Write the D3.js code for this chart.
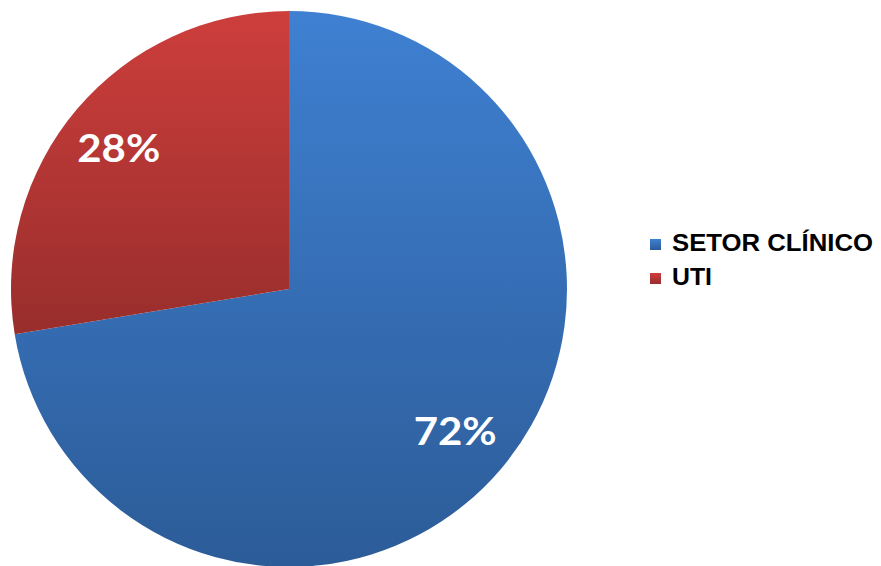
<!DOCTYPE html>
<html>
<head>
<meta charset="utf-8">
<script src="https://cdn.jsdelivr.net/npm/d3@7"></script>
<style>
    body { margin: 0; background: #fff; }
    svg { display: block; }
</style>
</head>
<body>
<svg class="chart" width="881" height="566"></svg>
<script>
var categories = ["SETOR CLÍNICO", "UTI"];
var values = [72.4, 27.6];
var labels = ["72%", "28%"];
var topColors = ["#3f80d2", "#cd3e3c"];
var bottomColors = ["#2c5c98", "#982e2c"];

var svg = d3.select("svg.chart");
var cx = 289, cy = 289, radius = 278;

var defs = svg.append("defs");
categories.forEach(function (c, i) {
    var grad = defs.append("linearGradient")
        .attr("id", "grad-" + i)
        .attr("x1", 0).attr("y1", 0)
        .attr("x2", 0).attr("y2", 1);
    grad.append("stop").attr("offset", "0%").attr("stop-color", topColors[i]);
    grad.append("stop").attr("offset", "100%").attr("stop-color", bottomColors[i]);
});

var pie = d3.pie().sort(null).value(function (d) { return d; });
var arc = d3.arc().innerRadius(0).outerRadius(radius);
var labelArc = d3.arc().innerRadius(218).outerRadius(218);

var g = svg.append("g").attr("transform", "translate(" + cx + "," + cy + ")");
var slices = pie(values);

g.selectAll("path.slice")
    .data(slices)
    .enter()
    .append("path")
    .classed("slice", true)
    .attr("d", arc)
    .attr("fill", function (d, i) { return "url(#grad-" + i + ")"; });

// wide geometric face in the original, so stretch to its width
g.selectAll("text.pct")
    .data(slices)
    .enter()
    .append("text")
    .classed("pct", true)
    .attr("transform", function (d) { return "translate(" + labelArc.centroid(d) + ")"; })
    .attr("text-anchor", "middle")
    .attr("dx", function (d, i) { return i === 1 ? -4 : 0; })
    .attr("dy", "0.38em")
    .attr("fill", "#fff")
    .attr("textLength", 83)
    .attr("lengthAdjust", "spacingAndGlyphs")
    .style("font-family", "Lato, 'DejaVu Sans', sans-serif")
    .style("font-weight", "bold")
    .style("font-size", "38px")
    .text(function (d, i) { return labels[i]; });

var legend = svg.append("g").attr("transform", "translate(650,239)");
var items = legend.selectAll("g.item")
    .data(categories)
    .enter()
    .append("g")
    .classed("item", true)
    .attr("transform", function (d, i) { return "translate(0," + (i * 34) + ")"; });

items.append("rect")
    .attr("width", 11).attr("height", 11)
    .attr("fill", function (d, i) { return "url(#grad-" + i + ")"; });

items.append("text")
    .attr("x", 22)
    .attr("y", 12)
    .attr("textLength", function (d, i) { return i === 0 ? 201 : 40; })
    .attr("lengthAdjust", "spacingAndGlyphs")
    .style("font-family", "'Liberation Sans', Arial, sans-serif")
    .style("font-weight", "bold")
    .style("font-size", "24px")
    .attr("fill", "#000")
    .text(function (d) { return d; });
</script>
</body>
</html>
